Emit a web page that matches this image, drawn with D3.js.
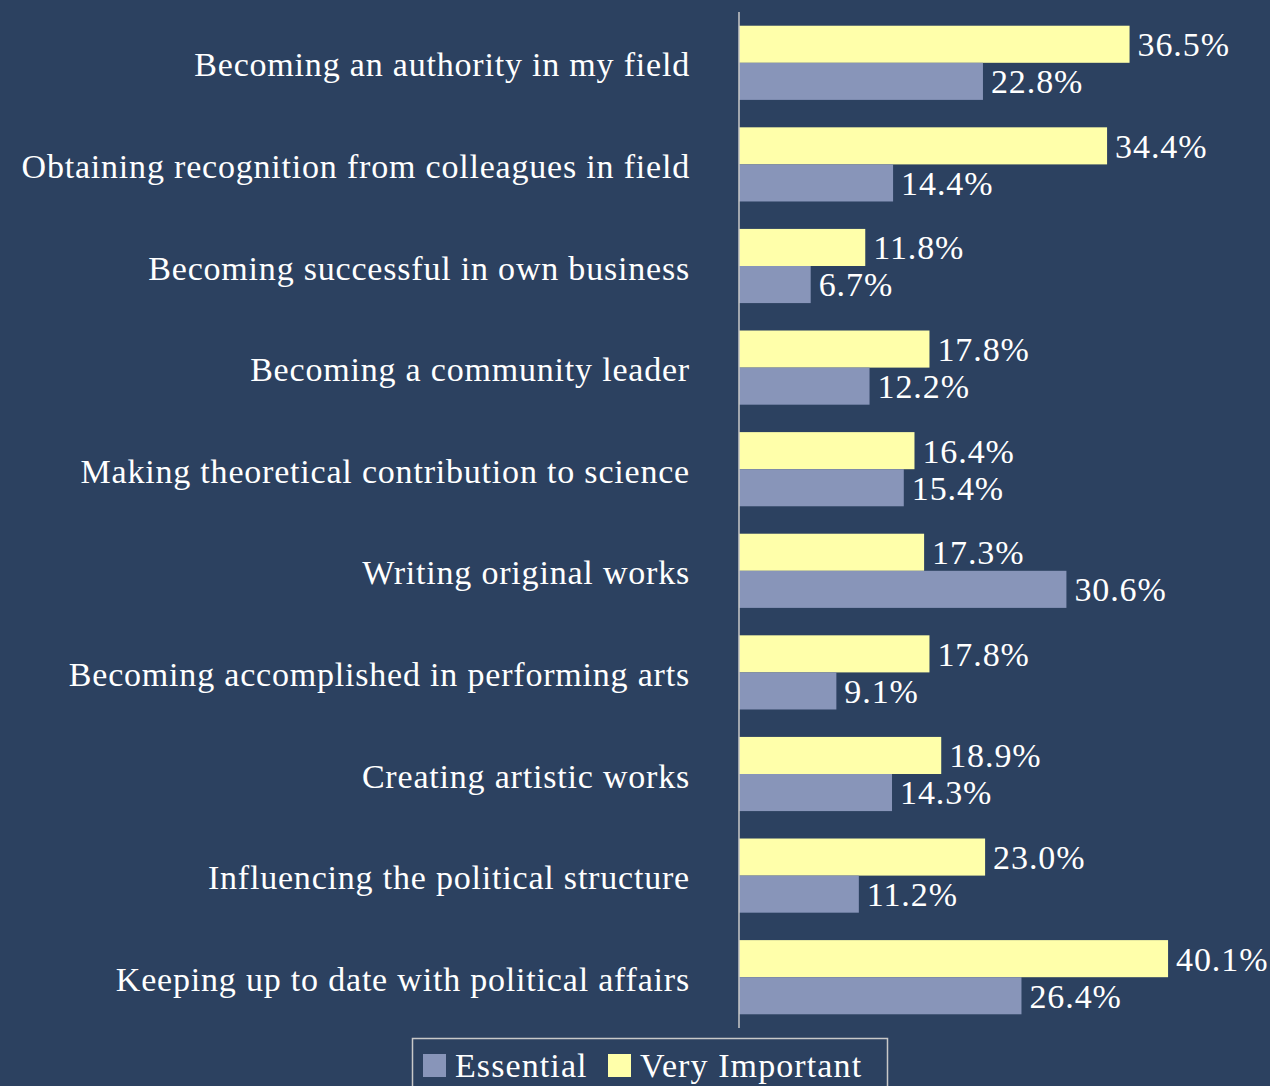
<!DOCTYPE html>
<html>
<head>
<meta charset="utf-8">
<script src="https://cdn.jsdelivr.net/npm/d3@7"></script>
<style>
  body { margin: 0; background: #2c4160; }
  text { font-family: "Liberation Serif", "DejaVu Serif", serif; fill: #ffffff; }
</style>
</head>
<body>
<script>
// Chart data
var categories = [
    "Becoming an authority in my field",
    "Obtaining recognition from colleagues in field",
    "Becoming successful in own business",
    "Becoming a community leader",
    "Making theoretical contribution to science",
    "Writing original works",
    "Becoming accomplished in performing arts",
    "Creating artistic works",
    "Influencing the political structure",
    "Keeping up to date with political affairs"
];
var veryImportant = [36.5, 34.4, 11.8, 17.8, 16.4, 17.3, 17.8, 18.9, 23.0, 40.1];
var essential = [22.8, 14.4, 6.7, 12.2, 15.4, 30.6, 9.1, 14.3, 11.2, 26.4];
var seriesNames = ["Essential", "Very Important"];
var seriesColors = ["#8895b9", "#ffffaa"];

var width = 1270;
var height = 1086;

var svg = d3.select("body")
    .append("svg")
    .attr("width", width)
    .attr("height", height);

svg.append("rect")
    .attr("width", width)
    .attr("height", height)
    .attr("fill", "#2c4160");

// Scales
var x = d3.scaleLinear()
    .domain([0, 50])
    .range([739, 739 + 535]);

var y = d3.scaleBand()
    .domain(categories)
    .range([12, 1028])
    .paddingInner(0.27)
    .paddingOuter(0.135);

var inner = d3.scaleBand()
    .domain(["vi", "es"])
    .range([0, y.bandwidth()]);

var rows = categories.map(function (c, i) {
    return { name: c, vi: veryImportant[i], es: essential[i] };
});

var group = svg.selectAll("g.row")
    .data(rows)
    .enter()
    .append("g")
    .attr("class", "row")
    .attr("transform", function (d) { return "translate(0," + y(d.name) + ")"; });

// Yellow bars (Very Important)
group.append("rect")
    .attr("x", x(0))
    .attr("y", inner("vi"))
    .attr("width", function (d) { return x(d.vi) - x(0); })
    .attr("height", inner.bandwidth())
    .attr("fill", seriesColors[1]);

// Purple bars (Essential)
group.append("rect")
    .attr("x", x(0))
    .attr("y", inner("es"))
    .attr("width", function (d) { return x(d.es) - x(0); })
    .attr("height", inner.bandwidth())
    .attr("fill", seriesColors[0]);

// Value labels
group.append("text")
    .attr("x", function (d) { return x(d.vi) + 8; })
    .attr("y", inner("vi") + inner.bandwidth() / 2)
    .attr("dy", "0.35em")
    .attr("font-size", 34)
    .attr("letter-spacing", 0.9)
    .text(function (d) { return d.vi.toFixed(1) + "%"; });

group.append("text")
    .attr("x", function (d) { return x(d.es) + 8; })
    .attr("y", inner("es") + inner.bandwidth() / 2)
    .attr("dy", "0.35em")
    .attr("font-size", 34)
    .attr("letter-spacing", 0.9)
    .text(function (d) { return d.es.toFixed(1) + "%"; });

// Category labels
group.append("text")
    .attr("x", 690)
    .attr("y", y.bandwidth() / 2)
    .attr("dy", "0.4em")
    .attr("text-anchor", "end")
    .attr("font-size", 34)
    .attr("letter-spacing", 0.8)
    .text(function (d) { return d.name; });

// Vertical axis line
svg.append("line")
    .attr("x1", x(0)).attr("x2", x(0))
    .attr("y1", 12).attr("y2", 1028)
    .attr("stroke", "#c8c8c8")
    .attr("stroke-width", 1.5);

// Legend
var legend = svg.append("g");
legend.append("rect")
    .attr("x", 412.5).attr("y", 1038.5)
    .attr("width", 475).attr("height", 60)
    .attr("fill", "none")
    .attr("stroke", "#c8c8c8")
    .attr("stroke-width", 1.5);

var legendX = [423, 608];
seriesNames.forEach(function (name, i) {
    legend.append("rect")
        .attr("x", legendX[i]).attr("y", 1054)
        .attr("width", 23).attr("height", 23)
        .attr("fill", seriesColors[i]);
    legend.append("text")
        .attr("x", legendX[i] + 32)
        .attr("y", 1077)
        .attr("font-size", 34)
        .attr("letter-spacing", 1.1)
        .text(name);
});
</script>
</body>
</html>
